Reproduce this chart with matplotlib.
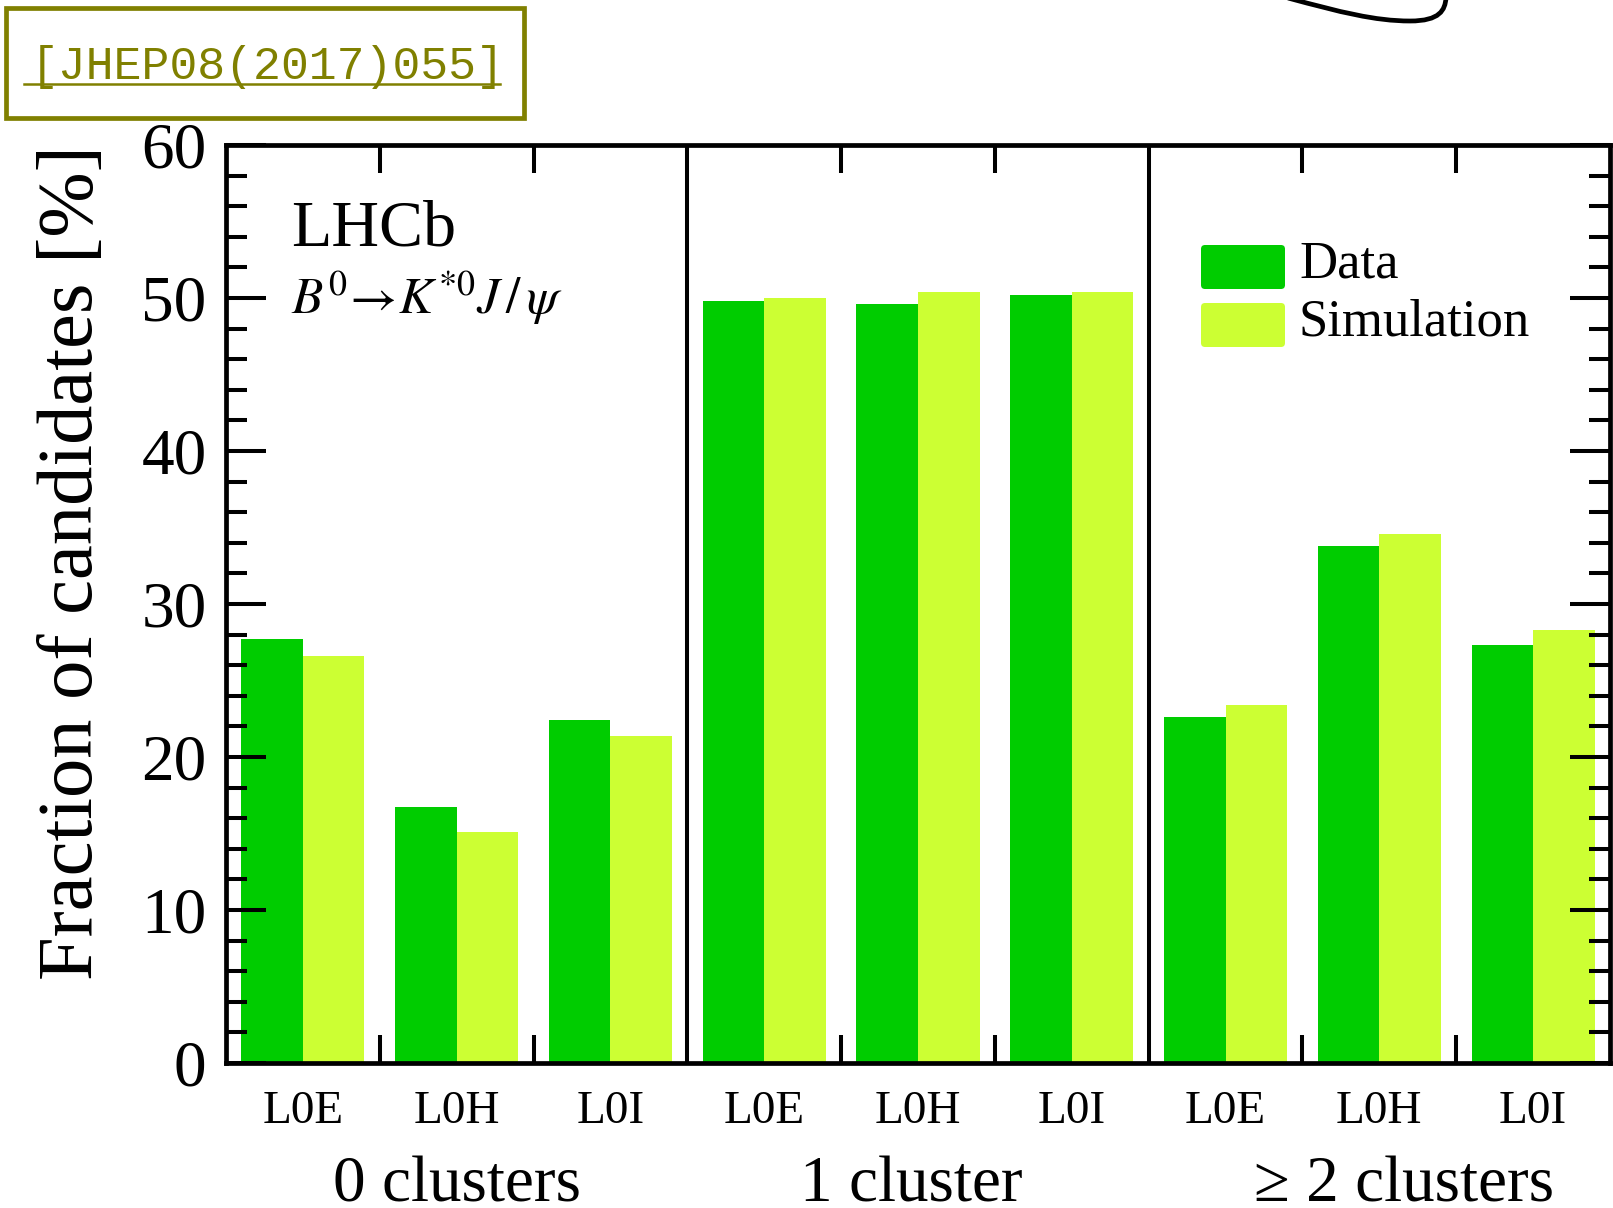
import matplotlib.pyplot as plt
import numpy as np
from matplotlib.patches import Rectangle, FancyBboxPatch, PathPatch
from matplotlib.path import Path
from matplotlib.lines import Line2D

# fraction of candidates (%) per L0 trigger category, grouped by cluster count
groups = ["0 clusters", "1 cluster", "\u2265 2 clusters"]
triggers = ["L0E", "L0H", "L0I"]
data_frac = [27.7, 16.7, 22.4, 49.8, 49.6, 50.2, 22.6, 33.8, 27.3]
sim_frac = [26.6, 15.1, 21.4, 50.0, 50.4, 50.4, 23.4, 34.6, 28.3]

data_color = "#00cc00"
sim_color = "#ccff33"
olive = "#808000"

plt.rcParams["font.family"] = ["Liberation Serif", "DejaVu Serif"]
plt.rcParams["mathtext.fontset"] = "stix"

W, H = 1613, 1208
fig = plt.figure(figsize=(W / 100, H / 100), dpi=100)


def fx(x):
    return x / W


def fy(y):
    return 1 - y / H


ax = fig.add_axes([fx(226), fy(1063), (1610 - 226) / W, (1063 - 145) / H])

slots = np.arange(len(data_frac))
ax.bar(slots + 0.1, data_frac, 0.4, align="edge", color=data_color, lw=0)
ax.bar(slots + 0.5, sim_frac, 0.4, align="edge", color=sim_color, lw=0)
ax.set_xlim(0, len(data_frac))
ax.set_ylim(0, 60)
for g in (3, 6):
    ax.axvline(g, color="k", lw=2.9)

for s in ax.spines.values():
    s.set_linewidth(3.4)

ax.set_xticks([1, 2, 4, 5, 7, 8])
ax.set_xticklabels([])
ax.set_xticks(slots + 0.5, minor=True)
ax.set_xticklabels(triggers * 3, minor=True)
ax.tick_params(axis="x", which="major", direction="in", length=20, width=2.9,
               top=True, bottom=True)
ax.tick_params(axis="x", which="minor", length=0, pad=20, labelsize=34)

ax.set_yticks(range(0, 61, 10))
ax.set_yticks(np.arange(0, 61, 2), minor=True)
ax.tick_params(axis="y", which="major", direction="in", length=29, width=2.9,
               left=True, right=True, labelsize=47, pad=14)
ax.tick_params(axis="y", which="minor", direction="in", length=15, width=2.9,
               left=True, right=True)

fig.text(fx(92), fy(145), "Fraction of candidates [%]", rotation=90,
         rotation_mode="anchor", ha="right", va="baseline", fontsize=56.5)

for xc, lab in zip((457, 911, 1404), groups):
    fig.text(fx(xc), fy(1201), lab, ha="center", va="baseline", fontsize=47)

fig.text(fx(291), fy(245), "LHCb", ha="left", va="baseline", fontsize=47.5)
fig.text(fx(291), fy(314), r"$B^{0}\!\rightarrow\! K^{*0}J\,/\,\psi$",
         ha="left", va="baseline", fontsize=37)

# legend drawn by hand (rounded swatches)
for (y0, col, lab) in ((245, data_color, "Data"), (303, sim_color, "Simulation")):
    fig.patches.append(FancyBboxPatch((1201 / 100, (H - y0 - 44) / 100), 0.84, 0.44,
                                      boxstyle="round,pad=0,rounding_size=0.04",
                                      transform=fig.dpi_scale_trans, fc=col, ec="none"))
    fig.text(fx(1299), fy(y0 + 33), lab, ha="left", va="baseline", fontsize=38)

# reference box
fig.patches.append(Rectangle((fx(6), fy(118)), 518 / W, 110 / H, transform=fig.transFigure,
                             fill=False, ec=olive, lw=3.4))
fig.text(fx(31), fy(79), "[JHEP08(2017)055]", family="Liberation Mono", color=olive,
         fontsize=33.5, ha="left", va="baseline")
fig.add_artist(Line2D([fx(24), fx(500)], [fy(84), fy(84)], color=olive, lw=1.8,
                      transform=fig.transFigure))

# stray curve at the top edge
verts = [(1288, -2), (1340, 12), (1375, 21), (1410, 21), (1440, 21), (1445, 10), (1446, -2)]
codes = [Path.MOVETO] + [Path.CURVE4] * 6
path = Path([(fx(x), fy(y)) for x, y in verts], codes)
fig.patches.append(PathPatch(path, transform=fig.transFigure, fill=False, ec="k", lw=3.4))

fig.savefig("out.png", dpi=100)
